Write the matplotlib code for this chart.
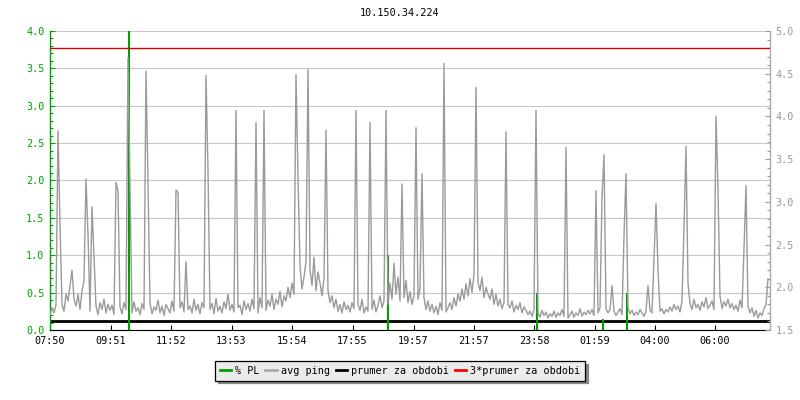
import numpy as np
import matplotlib
matplotlib.use("Agg")
import matplotlib.pyplot as plt
from matplotlib.lines import Line2D
from matplotlib.ticker import MultipleLocator, FormatStrFormatter
from matplotlib.transforms import blended_transform_factory

# ---------------- data ----------------
title = "10.150.34.224"
start_label = "07:50"
tick_labels = ["07:50", "09:51", "11:52", "13:53", "15:54", "17:55",
               "19:57", "21:57", "23:58", "01:59", "04:00", "06:00"]

step_min = 4  # sample spacing of avg ping (minutes)
ping_base = [
    1.68, 1.76, 1.70, 1.79, 1.72, 1.74, 1.80, 1.72, 1.92, 1.84,
    2.02, 2.20, 1.86, 1.78, 1.92, 1.74, 1.96, 2.08, 1.80, 1.90,
    1.72, 1.84, 1.70, 1.78, 1.68, 1.82, 1.74, 1.86, 1.70, 1.80,
    1.73, 1.79, 1.68, 1.84, 1.71, 1.77, 1.69, 1.82, 1.74, 1.70,
    1.78, 1.70, 1.83, 1.72, 1.76, 1.68, 1.81, 1.74, 1.79, 1.71,
    1.82, 1.69, 1.77, 1.73, 1.85, 1.70, 1.78, 1.67, 1.80, 1.75,
    1.70, 1.84, 1.72, 1.79, 1.68, 1.76, 1.83, 1.71, 1.90, 1.74,
    1.78, 1.70, 1.86, 1.73, 1.80, 1.69, 1.82, 1.76, 1.71, 1.84,
    1.74, 1.81, 1.69, 1.87, 1.72, 1.78, 1.70, 1.83, 1.75, 1.92,
    1.73, 1.80, 1.71, 1.85, 1.76, 1.79, 1.68, 1.84, 1.74, 1.81,
    1.72, 1.86, 1.75, 1.80, 1.70, 1.88, 1.76, 1.82, 1.73, 1.85,
    1.78, 1.92, 1.74, 1.86, 1.80, 1.95, 1.77, 1.90, 1.84, 2.00,
    1.88, 2.05, 1.92, 2.15, 1.86, 2.25, 1.98, 2.12, 2.30, 1.95,
    2.20, 2.02, 2.35, 1.96, 2.18, 2.05, 1.90, 2.10, 1.85, 1.96,
    1.82, 1.90, 1.76, 1.86, 1.72, 1.80, 1.70, 1.83, 1.74, 1.79,
    1.71, 1.82, 1.75, 1.68, 1.80, 1.73, 1.86, 1.70, 1.77, 1.72,
    1.80, 1.74, 1.85, 1.71, 1.79, 1.90, 1.76, 1.84, 1.95, 1.80,
    2.05, 1.86, 2.28, 1.92, 2.12, 1.84, 2.02, 1.88, 2.08, 1.82,
    1.95, 1.80, 1.90, 1.76, 1.86, 1.98, 1.78, 1.88, 1.74, 1.84,
    1.72, 1.80, 1.70, 1.78, 1.68, 1.82, 1.73, 1.79, 1.71, 1.76,
    1.82, 1.74, 1.88, 1.78, 1.92, 1.84, 1.98, 1.86, 2.04, 1.90,
    2.10, 1.94, 2.15, 1.90, 2.06, 1.96, 2.12, 1.88, 2.00, 1.92,
    1.86, 1.98, 1.80, 1.92, 1.78, 1.86, 1.75, 1.82, 1.72, 1.80,
    1.76, 1.84, 1.71, 1.79, 1.74, 1.82, 1.70, 1.77, 1.73, 1.68,
    1.72, 1.66, 1.74, 1.68, 1.70, 1.65, 1.73, 1.67, 1.71, 1.64,
    1.69, 1.66, 1.72, 1.65, 1.70, 1.67, 1.74, 1.66, 1.69, 1.64,
    1.68, 1.72, 1.65, 1.70, 1.67, 1.75, 1.66, 1.71, 1.68, 1.73,
    1.69, 1.74, 1.67, 1.72, 1.70, 1.76, 1.68, 1.73, 1.75, 1.70,
    1.74, 1.69, 1.72, 1.67, 1.71, 1.75, 1.68, 1.73, 1.70, 1.76,
    1.69, 1.73, 1.67, 1.71, 1.68, 1.74, 1.70, 1.66, 1.72, 1.69,
    1.73, 1.70, 1.76, 1.71, 1.78, 1.72, 1.75, 1.69, 1.74, 1.71,
    1.77, 1.72, 1.80, 1.74, 1.78, 1.71, 1.84, 1.75, 1.79, 1.73,
    1.81, 1.74, 1.86, 1.76, 1.80, 1.73, 1.83, 1.77, 1.88, 1.75,
    1.79, 1.84, 1.74, 1.82, 1.77, 1.90, 1.75, 1.83, 1.78, 1.86,
    1.76, 1.81, 1.74, 1.79, 1.72, 1.85, 1.76, 1.80, 1.73, 1.78,
    1.70, 1.76, 1.66, 1.73, 1.64, 1.70, 1.67, 1.75, 1.80, 1.86,
]
spike_min = [16, 20, 72, 76, 84, 88, 132, 136, 156, 160, 192, 196,
             252, 256, 272, 312, 316, 372, 412, 428, 492, 496, 516, 552,
             612, 640, 672, 704, 732, 744, 788, 852, 912, 972, 1032,
             1092, 1104, 1108, 1124, 1148, 1152, 1196, 1208, 1212, 1216,
             1268, 1272, 1276, 1332, 1336, 1388, 1392, 1436]
spike_ms = [3.83, 2.74, 3.27, 2.62, 2.94, 2.35, 3.23, 3.12, 4.69, 3.19, 4.53, 3.23,
            3.14, 3.11, 2.30, 4.48, 3.37, 4.07, 3.93, 4.07, 4.49, 3.29, 4.55, 3.84,
            4.07, 3.93, 4.07, 3.21, 3.87, 3.33, 4.62, 4.34, 3.82, 4.07, 3.64,
            3.13, 3.05, 3.55, 2.02, 2.60, 3.33, 2.02, 2.35, 2.98, 2.20,
            2.70, 3.65, 2.05, 4.00, 3.15, 2.45, 3.19, 2.10]

pl_min = [158, 676, 974, 1106, 1154]
pl_pct = [4.0, 1.0, 0.5, 0.15, 0.5]

prumer = 1.6

legend_labels = ["% PL", "avg ping", "prumer za obdobi", "3*prumer za obdobi"]

# ---------------- styling ----------------
GREEN = "#00a000"
GRAY = "#999999"
PING = "#9a9a9a"
RED = "#e00000"

plt.rcParams['font.family'] = ['DejaVu Sans Mono']
plt.rcParams['font.size'] = 7.3

fig = plt.figure(figsize=(8, 4), dpi=100)
ax = fig.add_axes([50 / 800, 70 / 400, 720 / 800, 299 / 400])
ax2 = ax.twinx()

# series
ping = np.array(ping_base, dtype=float)
t = np.arange(len(ping)) * step_min
for m, v in zip(spike_min, spike_ms):
    ping[int(round(m / step_min))] = v

def to_min(lbl):
    h, m = map(int, lbl.split(":"))
    h0, m0 = map(int, start_label.split(":"))
    return ((h * 60 + m) - (h0 * 60 + m0)) % 1440

tick_pos = [to_min(l) for l in tick_labels]

# black mean line (below PL)
tr = blended_transform_factory(ax.transAxes, ax2.transData)
ax.plot([0, 1], [prumer, prumer], color="black", lw=2.0, transform=tr,
        zorder=1, solid_capstyle="butt")
# PL bars
ax.vlines(pl_min, 0, pl_pct, color=GREEN, lw=1.5, zorder=2)

# ping line on right axis
ax2.plot(t, ping, color=PING, lw=1.0, zorder=3)
ax2.axhline(3 * prumer, color=RED, lw=1.0, zorder=4)

# limits
ax.set_xlim(0, 1440)
ax.set_ylim(0, 4.0)
ax2.set_ylim(1.5, 5.0)

# left axis
ax.yaxis.set_major_locator(MultipleLocator(0.5))
ax.yaxis.set_minor_locator(MultipleLocator(0.1))
ax.yaxis.set_major_formatter(FormatStrFormatter("%.1f"))
ax.tick_params(axis="y", which="major", direction="in", length=3.6, width=0.8,
               color=GREEN, labelcolor=GREEN, pad=4)
ax.tick_params(axis="y", which="minor", direction="in", length=2.2, width=0.8,
               color=GREEN)
ax.grid(axis="y", which="major", color="#c8c8c8", lw=0.8, zorder=0)
ax.set_axisbelow(True)

# x axis
ax.set_xticks(tick_pos)
ax.set_xticklabels(tick_labels)
ax.tick_params(axis="x", which="major", direction="in", length=3.6, width=0.8,
               color="black", labelcolor="black", pad=4)

# right axis
ax2.yaxis.set_major_locator(MultipleLocator(0.5))
ax2.yaxis.set_minor_locator(MultipleLocator(0.1))
ax2.yaxis.set_major_formatter(FormatStrFormatter("%.1f"))
ax2.tick_params(axis="y", which="major", direction="in", length=3.6, width=0.8,
                color=GRAY, labelcolor=GRAY, pad=4)
ax2.tick_params(axis="y", which="minor", direction="in", length=2.2, width=0.8,
                color=GRAY)

# spines
for s in ["top", "right"]:
    ax.spines[s].set_visible(False)
for s in ["top", "left", "bottom"]:
    ax2.spines[s].set_visible(False)
ax.spines["left"].set_color(GREEN)
ax.spines["left"].set_linewidth(1.0)
ax.spines["bottom"].set_color("black")
ax.spines["bottom"].set_linewidth(0.8)
ax2.spines["right"].set_color("#aaaaaa")
ax2.spines["right"].set_linewidth(1.0)

# title
fig.text(0.5, 1 - 13 / 400, title, ha="center", va="center", fontsize=7.3)

# legend
handles = [Line2D([], [], color=GREEN, lw=2),
           Line2D([], [], color="#aaaaaa", lw=2),
           Line2D([], [], color="black", lw=2),
           Line2D([], [], color="#ff0000", lw=2)]
leg = fig.legend(handles, legend_labels, loc="center", ncol=4,
                 bbox_to_anchor=(0.5, 1 - 371 / 400), frameon=True,
                 fancybox=False, shadow={"color": "#888888", "alpha": 1.0},
                 handlelength=1.1, handletextpad=0.4, columnspacing=0.6,
                 borderpad=0.45, fontsize=7.3)
leg.get_frame().set_facecolor("#ebebeb")
leg.get_frame().set_edgecolor("black")
leg.get_frame().set_linewidth(0.9)
leg.get_frame().set_alpha(1.0)

fig.savefig("out.png", dpi=100)
